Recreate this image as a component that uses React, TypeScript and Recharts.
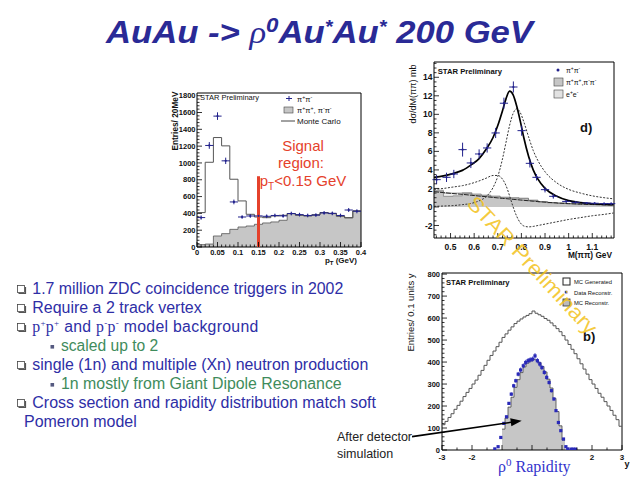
import React from 'react';
import {
  ComposedChart,
  Line,
  Area,
  Scatter,
  XAxis,
  YAxis,
  ErrorBar,
  ReferenceLine,
  ReferenceArea,
} from 'recharts';

const SANS = '"Liberation Sans", Arial, Helvetica, sans-serif';
const SERIF = '"Liberation Serif", "Times New Roman", serif';
const TITLE = '#2a2a96';
const TEXT_BLUE = '#2e2ea6';
const TEXT_GREEN = '#3f8c5c';
const MARK = '#22228c';
const GREY = '#c6c6c6';
const RED = '#e5412b';

// ---- pT spectrum (top left) ----
const ptBinEdges = [0, 0.02, 0.04, 0.06, 0.08, 0.1, 0.12, 0.14, 0.16, 0.18, 0.2, 0.22, 0.24, 0.26, 0.28, 0.3, 0.32, 0.34, 0.36, 0.38, 0.4];
const ptLikeSign = [28, 35, 131, 159, 210, 238, 250, 270, 286, 298, 318, 397, 377, 369, 381, 409, 397, 365, 345, 429];
const ptMonteCarlo = [409, 1008, 1302, 1203, 806, 548, 389, 357, 349, 369, 377, 398, 380, 372, 383, 410, 400, 368, 350, 430];
const ptX = [0.01, 0.03, 0.05, 0.07, 0.09, 0.11, 0.13, 0.15, 0.17, 0.19, 0.21, 0.23, 0.25, 0.27, 0.29, 0.31, 0.33, 0.35, 0.37, 0.39];
const ptData = [350, 1208, 1557, 1025, 536, 357, 369, 370, 365, 375, 370, 398, 385, 375, 380, 405, 400, 375, 440, 425];
const ptErr = [25, 40, 45, 38, 28, 22, 22, 22, 22, 22, 22, 22, 22, 22, 22, 22, 22, 22, 24, 24];
const ptXMajor = [0, 0.05, 0.1, 0.15, 0.2, 0.25, 0.3, 0.35, 0.4];
const ptYMajor = [0, 200, 400, 600, 800, 1000, 1200, 1400, 1600, 1800];

// ---- M(pi pi) spectrum (top right) ----
const massBinEdges = [0.43, 0.47, 0.51, 0.55, 0.59, 0.63, 0.67, 0.71, 0.75, 0.79, 0.83, 0.87, 0.91, 0.95, 0.99, 1.03, 1.07, 1.11, 1.15, 1.19];
const massLikeSign = [1.7, 1.15, 1.2, 1.45, 1.3, 1.2, 1.1, 1.0, 0.95, 0.9, 0.7, 0.55, 0.45, 0.4, 0.35, 0.32, 0.3, 0.28, 0.26];
const massEE = [0.1, 0.35, 0.3, 0.1, 0.1, 0.08, 0.08, 0.06, 0.05, 0.05, 0.04, 0.03, 0.03, 0.02, 0.02, 0.02, 0.02, 0.02, 0.02];
const massX = [0.441, 0.483, 0.514, 0.551, 0.586, 0.621, 0.655, 0.691, 0.726, 0.766, 0.801, 0.836, 0.864, 0.9, 0.935, 0.99, 1.03, 1.076, 1.11, 1.15, 1.18];
const massData = [2.95, 3.2, 3.56, 6.19, 4.75, 5.72, 6.37, 7.99, 11.2, 12.95, 8.24, 4.71, 3.2, 1.87, 1.15, 0.6, 0.5, 0.43, 0.4, 0.36, 0.36];
const massErr = [0.5, 0.5, 0.45, 0.75, 0.55, 0.5, 0.5, 0.55, 0.6, 0.6, 0.55, 0.45, 0.35, 0.3, 0.25, 0.15, 0.12, 0.1, 0.1, 0.1, 0.1];
const massCurveX = [0.43, 0.47, 0.51, 0.55, 0.59, 0.62, 0.65, 0.68, 0.7, 0.72, 0.735, 0.75, 0.765, 0.78, 0.795, 0.81, 0.83, 0.85, 0.87, 0.9, 0.95, 1.0, 1.05, 1.1, 1.15, 1.19];
const massTotal = [3.2, 3.35, 3.6, 3.95, 4.6, 5.2, 6.2, 7.5, 8.8, 10.4, 11.7, 12.5, 12.1, 10.9, 9.3, 7.5, 5.5, 4.0, 3.0, 2.0, 1.15, 0.68, 0.47, 0.35, 0.28, 0.24];
const massRho = [0.07, 0.1, 0.15, 0.25, 0.4, 0.65, 1.1, 2.1, 3.3, 5.2, 7.0, 8.8, 10.1, 10.6, 10.2, 9.2, 7.6, 6.1, 5.0, 3.8, 2.6, 1.9, 1.5, 1.2, 1.0, 0.88];
const massInterf = [1.9, 2.0, 2.15, 2.3, 2.55, 2.8, 3.1, 3.4, 3.4, 3.0, 2.3, 1.2, 0.0, -1.0, -1.7, -2.05, -2.15, -2.1, -2.0, -1.85, -1.6, -1.35, -1.15, -0.95, -0.8, -0.65];
const massDirect = [1.65, 1.55, 1.45, 1.36, 1.26, 1.18, 1.11, 1.03, 0.98, 0.93, 0.9, 0.86, 0.82, 0.79, 0.75, 0.72, 0.67, 0.62, 0.58, 0.52, 0.43, 0.36, 0.3, 0.26, 0.23, 0.21];
const massXMajor = [0.5, 0.6, 0.7, 0.8, 0.9, 1, 1.1];
const massYMajor = [-2, 0, 2, 4, 6, 8, 10, 12, 14];

// ---- rapidity (bottom right) ----
const rapGenerated = [
  115, 130, 148, 165, 185, 203, 222, 243, 262, 280,
  300, 318, 340, 362, 385, 408, 430, 450, 470, 490,
  512, 528, 545, 560, 575, 586, 596, 605, 612, 620,
  632, 622, 615, 608, 598, 590, 578, 565, 552, 538,
  520, 500, 480, 458, 438, 415, 392, 368, 345, 320,
  300, 280, 258, 240, 220, 200, 180, 158, 138, 108,
];
const rapReconstructed = [95, 145, 195, 240, 285, 320, 352, 378, 395, 405, 412, 410, 398, 380, 355, 322, 282, 235, 175, 110, 45];
const rapX = [-1.24, -1.13, -1.04, -0.94, -0.85, -0.77, -0.69, -0.61, -0.54, -0.46, -0.38, -0.29, -0.21, -0.13, -0.06, 0.02, 0.1, 0.18, 0.26, 0.33, 0.41, 0.49, 0.57, 0.65, 0.73, 0.8, 0.88, 0.96, 1.05, 1.13, 1.19, 1.3, 1.37, 1.45];
const rapData = [5, 15, 57, 121, 151, 212, 254, 292, 315, 345, 364, 383, 398, 406, 410, 413, 428, 406, 391, 375, 353, 330, 307, 270, 232, 179, 125, 88, 50, 15, 5, 4, 4, 4];
const rapXMajor = [-3, -2, -1, 0, 1, 2, 3];
const rapXLabels = [-3, -2, 2, 3];
const rapYMajor = [0, 100, 200, 300, 400, 500, 600, 700, 800];

const bullets = [
  '1.7 million ZDC coincidence triggers in 2002',
  'Require a 2 track vertex',
  'single (1n) and multiple (Xn) neutron production',
  'Cross section and rapidity distribution match soft',
];

// helpers
const binEdges = (lo: number, w: number, n: number) =>
  Array.from({ length: n + 1 }, (_, i) => +(lo + i * w).toFixed(4));
const tickRange = (lo: number, hi: number, step: number) =>
  Array.from({ length: Math.round((hi - lo) / step) + 1 }, (_, i) => +(lo + i * step).toFixed(4));
const stepData = (edges: number[], vals: number[]) =>
  edges.map((x, i) => ({ x, y: vals[Math.min(i, vals.length - 1)] }));
const has = (arr: number[], v: number) => arr.some((m) => Math.abs(m - v) < 1e-6);

type TickCfg = { majors: number[]; labels?: number[]; fs: number; off: number };

function xTick(cfg: TickCfg) {
  return (p: any) => {
    const v = p.payload.value;
    const major = has(cfg.majors, v);
    return (
      <g>
        <line x1={p.x} x2={p.x} y1={p.y} y2={p.y - (major ? 5 : 2.5)} stroke="#000" strokeWidth={0.8} />
        {has(cfg.labels ?? cfg.majors, v) && (
          <text x={p.x} y={p.y + cfg.off} textAnchor="middle" fontSize={cfg.fs} fontWeight="bold" fontFamily={SANS} fill="#111">
            {String(v)}
          </text>
        )}
      </g>
    );
  };
}

function yTick(cfg: TickCfg) {
  return (p: any) => {
    const v = p.payload.value;
    const major = has(cfg.majors, v);
    return (
      <g>
        <line x1={p.x} x2={p.x + (major ? 5 : 2.5)} y1={p.y} y2={p.y} stroke="#000" strokeWidth={0.8} />
        {major && (
          <text x={p.x - cfg.off} y={p.y + cfg.fs * 0.36} textAnchor="end" fontSize={cfg.fs} fontWeight="bold" fontFamily={SANS} fill="#111">
            {String(v)}
          </text>
        )}
      </g>
    );
  };
}

const crossDot = (p: any) => <circle cx={p.cx} cy={p.cy} r={1.1} fill={MARK} />;
const squareDot = (p: any) => <rect x={p.cx - 1.6} y={p.cy - 1.6} width={3.2} height={3.2} fill="#2a2ab8" />;

const axisCommon = {
  type: 'number' as const,
  interval: 0 as const,
  allowDataOverflow: true,
  axisLine: false,
  tickLine: false,
  tickSize: 0,
  tickMargin: 0,
};

function PtChart() {
  const pts = ptX.map((x, i) => ({ x, y: ptData[i], ey: ptErr[i], ex: 0.01 }));
  return (
    <ComposedChart width={230} height={190} margin={{ top: 8, right: 19, left: 7, bottom: 8 }}>
      <XAxis {...axisCommon} dataKey="x" domain={[0, 0.4]} ticks={tickRange(0, 0.4, 0.01)} height={20}
        tick={xTick({ majors: ptXMajor, fs: 7.5, off: 7.8 })} />
      <YAxis {...axisCommon} dataKey="y" domain={[0, 1832]} ticks={tickRange(0, 1800, 40)} width={40}
        tick={yTick({ majors: ptYMajor, fs: 7.5, off: 1.5 })} />
      <Area data={stepData(ptBinEdges, ptLikeSign)} dataKey="y" type="stepAfter" baseValue={0}
        fill={GREY} fillOpacity={1} stroke="#555" strokeWidth={0.8} isAnimationActive={false} />
      <Line data={stepData(ptBinEdges, ptMonteCarlo)} dataKey="y" type="stepAfter" stroke="#555"
        strokeWidth={1} dot={false} isAnimationActive={false} />
      <Scatter data={pts} dataKey="y" fill={MARK} shape={crossDot} isAnimationActive={false}>
        <ErrorBar dataKey="ey" direction="y" width={0} stroke={MARK} strokeWidth={1} />
        <ErrorBar dataKey="ex" direction="x" width={0} stroke={MARK} strokeWidth={1} />
      </Scatter>
      <ReferenceLine segment={[{ x: 0.15, y: 0 }, { x: 0.15, y: 842 }]} stroke={RED} strokeWidth={3} />
      <ReferenceArea x1={0} x2={0.4} y1={0} y2={1832} fill="none" stroke="#000" strokeWidth={1} />
    </ComposedChart>
  );
}

function MassChart() {
  const pts = massX.map((x, i) => ({ x, y: massData[i], ey: massErr[i], ex: 0.0175 }));
  const curve = (vals: number[]) => massCurveX.map((x, i) => ({ x, y: vals[i] }));
  const eeTop = massLikeSign.map((v, i) => +(v + massEE[i]).toFixed(3));
  return (
    <ComposedChart width={235} height={205} margin={{ top: 7, right: 11, left: 4, bottom: 2 }}>
      <XAxis {...axisCommon} dataKey="x" domain={[0.43, 1.192]} ticks={tickRange(0.44, 1.18, 0.02)} height={20}
        tick={xTick({ majors: massXMajor, fs: 8.5, off: 11.5 })} />
      <YAxis {...axisCommon} dataKey="y" domain={[-3.35, 15.65]} ticks={tickRange(-3, 15.5, 0.5)} width={40}
        tick={yTick({ majors: massYMajor, fs: 8.5, off: 1.5 })} />
      <Area data={stepData(massBinEdges, eeTop)} dataKey="y" type="stepAfter" baseValue={0}
        fill="#f2f2f2" fillOpacity={1} stroke="#666" strokeWidth={0.6} isAnimationActive={false} />
      <Area data={stepData(massBinEdges, massLikeSign)} dataKey="y" type="stepAfter" baseValue={0}
        fill={GREY} fillOpacity={1} stroke="#666" strokeWidth={0.6} isAnimationActive={false} />
      <Line data={curve(massDirect)} dataKey="y" type="monotone" stroke="#222" strokeWidth={1}
        strokeDasharray="5 1" dot={false} isAnimationActive={false} />
      <Line data={curve(massInterf)} dataKey="y" type="monotone" stroke="#333" strokeWidth={1}
        strokeDasharray="2 1.5" dot={false} isAnimationActive={false} />
      <Line data={curve(massRho)} dataKey="y" type="monotone" stroke="#333" strokeWidth={1}
        strokeDasharray="2 1.5" dot={false} isAnimationActive={false} />
      <Line data={curve(massTotal)} dataKey="y" type="monotone" stroke="#000" strokeWidth={1.7}
        dot={false} isAnimationActive={false} />
      <Scatter data={pts} dataKey="y" fill={MARK} shape={crossDot} isAnimationActive={false}>
        <ErrorBar dataKey="ey" direction="y" width={0} stroke={MARK} strokeWidth={1} />
        <ErrorBar dataKey="ex" direction="x" width={0} stroke={MARK} strokeWidth={1} />
      </Scatter>
      <ReferenceArea x1={0.43} x2={1.192} y1={-3.35} y2={15.65} fill="none" stroke="#000" strokeWidth={1} />
    </ComposedChart>
  );
}

function RapidityChart() {
  const genEdges = binEdges(-3, 0.1, 60);
  const recEdges = binEdges(-1, 0.1, 21);
  const pts = rapX.map((x, i) => ({ x, y: rapData[i], ey: Math.max(4, Math.round(rapData[i] * 0.03)) }));
  return (
    <ComposedChart width={235} height={205} margin={{ top: 8, right: 8, left: 7, bottom: 2 }}>
      <XAxis {...axisCommon} dataKey="x" domain={[-3, 3]} ticks={tickRange(-3, 3, 0.5)} height={18}
        tick={xTick({ majors: rapXMajor, labels: rapXLabels, fs: 8, off: 9.5 })} />
      <YAxis {...axisCommon} dataKey="y" domain={[0, 805]} ticks={tickRange(0, 800, 20)} width={40}
        tick={yTick({ majors: rapYMajor, fs: 7.5, off: 2 })} />
      <Area data={stepData(recEdges, rapReconstructed)} dataKey="y" type="stepAfter" baseValue={0}
        fill={GREY} fillOpacity={1} stroke="#444" strokeWidth={0.8} isAnimationActive={false} />
      <Line data={stepData(genEdges, rapGenerated)} dataKey="y" type="stepAfter" stroke="#555"
        strokeWidth={1} dot={false} isAnimationActive={false} />
      <Scatter data={pts} dataKey="y" fill="#2a2ab8" shape={squareDot} isAnimationActive={false}>
        <ErrorBar dataKey="ey" direction="y" width={0} stroke="#2a2ab8" strokeWidth={0.8} />
      </Scatter>
      <ReferenceArea x1={-3} x2={3} y1={0} y2={805} fill="none" stroke="#000" strokeWidth={1} />
    </ComposedChart>
  );
}

const sup = (t: string, fs: number, shift: number, family?: string) => (
  <tspan fontSize={fs} baselineShift={shift} fontFamily={family}>{t}</tspan>
);

function CheckBox({ y }: { y: number }) {
  const top = Math.round(y - 9) + 0.5;
  return (
    <g>
      <path d={`M${25.5} ${top + 1.5} V${top + 8} H${18.5}`} fill="none" stroke="#555" strokeWidth={1.2} />
      <rect x={17.5} y={top} width={7} height={7} fill="#fff" stroke="#444" strokeWidth={0.8} />
    </g>
  );
}

function Overlay() {
  const rows = [294, 312.7, 331.7, 351, 370, 389, 408.3, 427.3];
  const pi = (a: string, b: string, fs: number) => (
    <>
      {'π'}{sup(a, fs * 0.7, fs * 0.4)}{'π'}{sup(b, fs * 0.7, fs * 0.4)}
    </>
  );
  return (
    <svg width={640} height={480} style={{ position: 'absolute', left: 0, top: 0, pointerEvents: 'none' }}>
      {/* title */}
      <text x={106} y={43.3} fontFamily={SANS} fontSize={31} fontWeight="bold" fontStyle="italic" fill={TITLE}
        textLength={427} lengthAdjust="spacingAndGlyphs">
        {'AuAu -> '}
        <tspan fontFamily={SERIF} fontWeight="normal">ρ</tspan>
        {sup('0', 20, 11)}
        {'Au'}
        {sup('*', 18, 10)}
        {'Au'}
        {sup('*', 18, 10)}
        {' 200 GeV'}
      </text>

      {/* bullet list */}
      {[0, 1, 2, 4, 6].map((r) => <CheckBox key={r} y={rows[r]} />)}
      <rect x={50.5} y={rows[3] - 6} width={3.6} height={3.6} fill="#555a80" />
      <rect x={50.5} y={rows[5] - 6} width={3.6} height={3.6} fill="#555a80" />
      <g fontFamily={SANS} fontSize={15.8} fill={TEXT_BLUE}>
        <text x={32.3} y={rows[0]} textLength={311} lengthAdjust="spacingAndGlyphs">{bullets[0]}</text>
        <text x={32.3} y={rows[1]} textLength={169.4} lengthAdjust="spacingAndGlyphs">{bullets[1]}</text>
        <text x={32.3} y={rows[2]} textLength={226} lengthAdjust="spacing">
          <tspan fontFamily={SERIF}>p</tspan>{sup('+', 9, 6, SERIF)}
          <tspan fontFamily={SERIF}>p</tspan>{sup('+', 9, 6, SERIF)}
          {' and '}
          <tspan fontFamily={SERIF}>p</tspan>{sup('-', 9, 6, SERIF)}
          <tspan fontFamily={SERIF}>p</tspan>{sup('-', 9, 6, SERIF)}
          {'   model background'}
        </text>
        <text x={61} y={rows[3]} fill={TEXT_GREEN} textLength={97.3} lengthAdjust="spacingAndGlyphs">scaled up to 2</text>
        <text x={32.3} y={rows[4]} textLength={336} lengthAdjust="spacingAndGlyphs">{bullets[2]}</text>
        <text x={61} y={rows[5]} fill={TEXT_GREEN} textLength={280.7} lengthAdjust="spacingAndGlyphs">
          1n mostly from Giant Dipole Resonance
        </text>
        <text x={32.3} y={rows[6]} textLength={343.7} lengthAdjust="spacingAndGlyphs">{bullets[3]}</text>
        <text x={24} y={rows[7]} textLength={112.7} lengthAdjust="spacingAndGlyphs">Pomeron model</text>
      </g>

      {/* pT plot annotations */}
      <g fontFamily={SANS} fill="#111">
        <text x={200} y={100} fontSize={7.5}>STAR Preliminary</text>
        <line x1={286} x2={292} y1={98.5} y2={98.5} stroke={MARK} />
        <line x1={289} x2={289} y1={96} y2={101} stroke={MARK} />
        <text x={297} y={101.5} fontSize={7.5}>{pi('+', '-', 7.5)}</text>
        <rect x={284} y={107} width={9} height={6} fill={GREY} stroke="#444" strokeWidth={0.6} />
        <text x={297} y={113} fontSize={7.5}>{pi('+', '+', 7.5)}{', '}{pi('-', '-', 7.5)}</text>
        <line x1={281} x2={295} y1={121} y2={121} stroke="#444" />
        <text x={297} y={123.5} fontSize={8}>Monte Carlo</text>
        <text transform="translate(178,121) rotate(-90)" textAnchor="middle" fontSize={8.3} fontWeight="bold">
          Entries/ 20MeV
        </text>
        <text x={357} y={263} textAnchor="end" fontSize={8} fontWeight="bold">
          p<tspan fontSize={6} baselineShift={-2}>T</tspan> (GeV)
        </text>
      </g>
      <g fontFamily={SANS} fill={RED} fontSize={15} textAnchor="middle">
        <text x={303} y={150.5}>Signal</text>
        <text x={301} y={168.3}>region:</text>
        <text x={303} y={186}>
          p<tspan fontSize={10} baselineShift={-4}>T</tspan>{'<0.15 GeV'}
        </text>
      </g>

      {/* mass plot annotations */}
      <g fontFamily={SANS} fill="#111">
        <text x={437.7} y={74} fontSize={7.7} fontWeight="bold">STAR Preliminary</text>
        <circle cx={558} cy={70} r={1.5} fill={MARK} />
        <text x={566} y={72.5} fontSize={7}>{pi('+', '-', 7)}</text>
        <rect x={554} y={78} width={9} height={8} fill={GREY} stroke="#444" strokeWidth={0.6} />
        <text x={566} y={85} fontSize={7}>{pi('+', '+', 7)}{','}{pi('-', '-', 7)}</text>
        <rect x={554} y={90} width={9} height={8} fill="#e2e2e2" stroke="#444" strokeWidth={0.6} />
        <text x={566} y={97} fontSize={7}>e{sup('+', 5, 2.8)}e{sup('-', 5, 2.8)}</text>
        <text x={580} y={131.5} fontSize={13} fontWeight="bold">d)</text>
        <text transform="translate(416,94) rotate(-90)" textAnchor="middle" fontSize={9}>dσ/dM(ππ) mb</text>
        <text x={612} y={258} textAnchor="end" fontSize={8.3} fontWeight="bold">M(ππ) GeV</text>
      </g>

      {/* rapidity plot annotations */}
      <g fontFamily={SANS} fill="#111">
        <text x={446} y={284.5} fontSize={7.6} fontWeight="bold">STAR Preliminary</text>
        <rect x={563} y={278} width={7} height={7} fill="#fff" stroke="#222" strokeWidth={1} />
        <text x={574} y={284} fontSize={5.8}>MC Generated</text>
        <rect x={564.8} y={290.8} width={2.6} height={2.6} fill="#2a2ab8" />
        <text x={574} y={294.5} fontSize={5.8}>Data Reconstr.</text>
        <rect x={563} y={299} width={7} height={7} fill="#bbb" stroke="#333" strokeWidth={0.8} />
        <text x={574} y={305} fontSize={5.8}>MC Reconstr.</text>
        <text x={583} y={341} fontSize={13} fontWeight="bold">b)</text>
        <text transform="translate(414,312.5) rotate(-90)" textAnchor="middle" fontSize={9.5}>Entries/ 0.1 units y</text>
        <text x={627} y={467} textAnchor="middle" fontSize={9} fontWeight="bold">y</text>
      </g>

      {/* watermark */}
      <text transform="translate(532.5,265) rotate(47)" textAnchor="middle" dominantBaseline="central"
        fontFamily={SANS} fontSize={21} fill="#f3c21b" fillOpacity={0.85} textLength={180} lengthAdjust="spacingAndGlyphs">
        STAR Preliminary
      </text>

      {/* after detector simulation */}
      <g fontFamily={SANS} fontSize={12.5} fill="#222">
        <text x={337} y={441}>After detector</text>
        <text x={337} y={458}>simulation</text>
      </g>
      <line x1={412} y1={436.6} x2={511} y2={422.3} stroke="#000" strokeWidth={1.6} />
      <polygon points="521.7,420.7 511.4,426.3 510.2,418.3" fill="#000" />
      <text x={498} y={471.7} fontFamily={SERIF} fontSize={16} fill="#3333cc">
        ρ{sup('0', 11, 6)} Rapidity
      </text>
    </svg>
  );
}

export default function App() {
  return (
    <div style={{ position: 'absolute', left: 0, top: 0, width: 640, height: 480, background: '#fff', overflow: 'hidden', fontFamily: SANS }}>
      <div style={{ position: 'absolute', left: 150, top: 85 }}>
        <PtChart />
      </div>
      <div style={{ position: 'absolute', left: 390, top: 55 }}>
        <MassChart />
      </div>
      <div style={{ position: 'absolute', left: 395, top: 265 }}>
        <RapidityChart />
      </div>
      <Overlay />
    </div>
  );
}
